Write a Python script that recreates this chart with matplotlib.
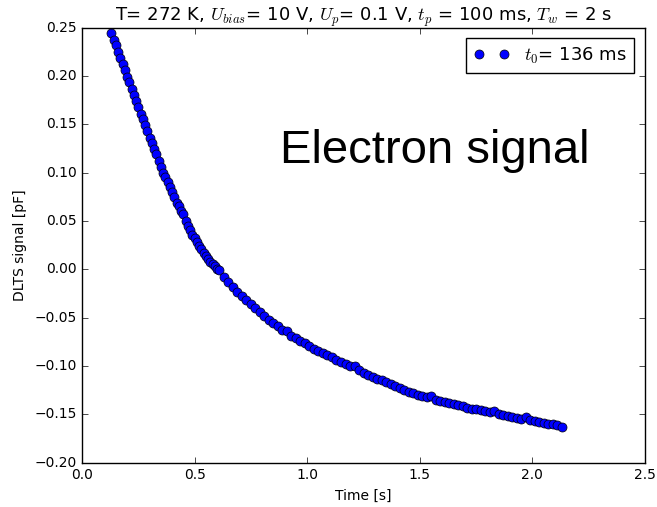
import matplotlib
matplotlib.use('Agg')
import matplotlib.pyplot as plt

# DLTS transient
time_s = [0.13, 0.14, 0.15, 0.16, 0.17, 0.18, 0.19, 0.20, 0.21, 0.22,
          0.23, 0.24, 0.25, 0.26, 0.27, 0.28, 0.29, 0.30, 0.31, 0.32,
          0.33, 0.34, 0.35, 0.36, 0.37, 0.38, 0.39, 0.40, 0.41, 0.42,
          0.43, 0.44, 0.45, 0.46, 0.47, 0.48, 0.49, 0.50, 0.51, 0.52,
          0.53, 0.54, 0.55, 0.56, 0.57, 0.58, 0.59, 0.60, 0.61,
          0.63, 0.65, 0.67, 0.69, 0.71,
          0.73, 0.75, 0.77, 0.79, 0.81, 0.83, 0.85, 0.87, 0.89, 0.91,
          0.93, 0.95, 0.97, 0.99, 1.01, 1.03, 1.05, 1.07, 1.09, 1.11,
          1.13, 1.15, 1.17, 1.19, 1.21, 1.23, 1.25, 1.27, 1.29, 1.31,
          1.33, 1.35, 1.37, 1.39, 1.41, 1.43, 1.45, 1.47, 1.49, 1.51,
          1.53, 1.55, 1.57, 1.59, 1.61, 1.63, 1.65, 1.67, 1.69, 1.71,
          1.73, 1.75, 1.77, 1.79, 1.81, 1.83, 1.85, 1.87, 1.89, 1.91,
          1.93, 1.95, 1.97, 1.99, 2.01, 2.03, 2.05, 2.07, 2.09, 2.11,
          2.13]
signal_pf = [0.244, 0.237, 0.232, 0.225, 0.219, 0.212, 0.206, 0.199, 0.194, 0.186,
             0.180, 0.174, 0.168, 0.161, 0.155, 0.149, 0.143, 0.136, 0.131, 0.124,
             0.119, 0.112, 0.106, 0.100, 0.095, 0.090, 0.085, 0.080, 0.075, 0.069,
             0.065, 0.060, 0.057, 0.050, 0.045, 0.041, 0.036, 0.032, 0.028, 0.024,
             0.021, 0.017, 0.014, 0.011, 0.008, 0.005, 0.003, 0.000, -0.001,
             -0.008, -0.013, -0.018, -0.023, -0.028,
             -0.032, -0.036, -0.040, -0.044, -0.048, -0.052, -0.056, -0.059, -0.063, -0.064,
             -0.069, -0.071, -0.074, -0.076, -0.079, -0.082, -0.084, -0.087, -0.089, -0.091,
             -0.094, -0.096, -0.098, -0.100, -0.100, -0.104, -0.107, -0.109, -0.111, -0.113,
             -0.115, -0.117, -0.119, -0.121, -0.123, -0.125, -0.127, -0.128, -0.130, -0.131,
             -0.132, -0.131, -0.135, -0.136, -0.137, -0.138, -0.139, -0.140, -0.141, -0.143,
             -0.144, -0.145, -0.146, -0.147, -0.148, -0.147, -0.150, -0.151, -0.152, -0.153,
             -0.154, -0.155, -0.153, -0.156, -0.157, -0.158, -0.159, -0.160, -0.160, -0.161,
             -0.163]

plt.style.use('classic')

fig = plt.figure(figsize=(6.57, 5.07), dpi=100, facecolor='white')
ax = fig.add_axes([0.1248, 0.0875, 0.857, 0.858])

ax.plot(time_s, signal_pf, 'o', color='b', markeredgecolor='k',
        markeredgewidth=0.5, markersize=6.5, label='$t_0$= 136 ms')

ax.set_xlim(0.0, 2.5)
ax.set_ylim(-0.20, 0.25)
ax.set_xlabel('Time [s]', fontsize=10)
ax.set_ylabel('DLTS signal [pF]', fontsize=10)
ax.tick_params(labelsize=10)
ax.set_title('T= 272 K, $U_{bias}$= 10 V, $U_p$= 0.1 V, $t_p$ = 100 ms, $T_w$ = 2 s',
             fontsize=13)
ax.text(0.351, 0.688, 'Electron signal', transform=ax.transAxes, fontsize=34,
        family='Liberation Sans')
ax.legend(loc='upper right', numpoints=2, fontsize=13, borderaxespad=0.6)

fig.savefig('out.png', dpi=100, facecolor='white')
